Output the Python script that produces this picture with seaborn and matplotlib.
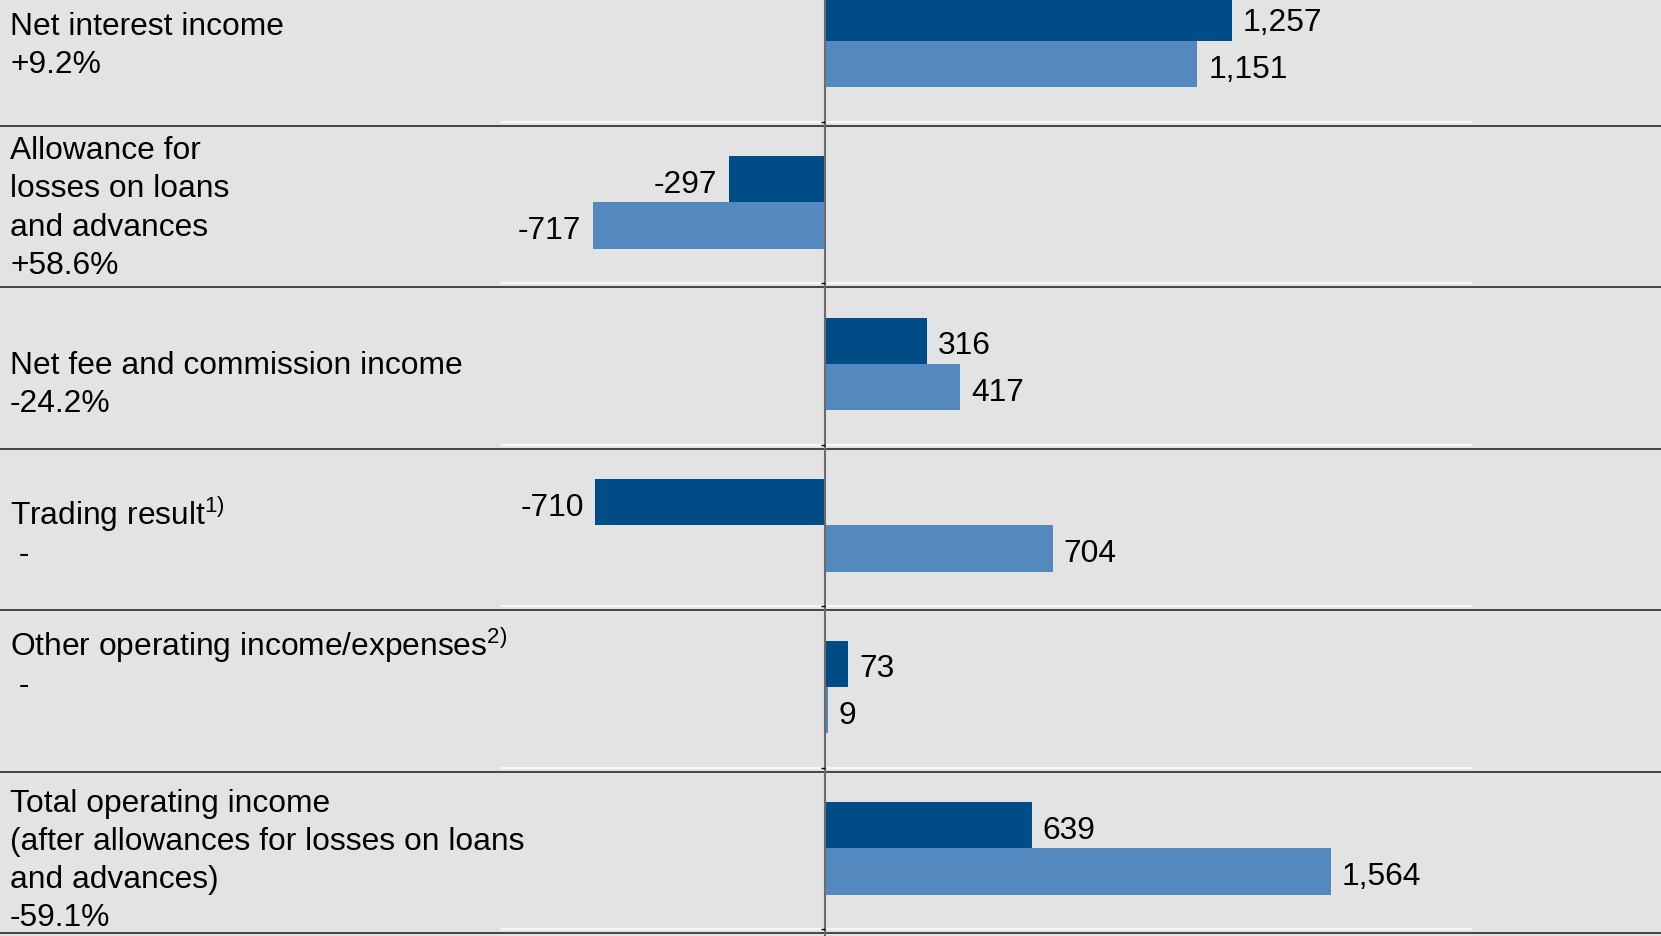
import numpy as np
import pandas as pd
import matplotlib
matplotlib.use("Agg")
import matplotlib.pyplot as plt
from matplotlib import transforms
import seaborn as sns

# ---------------- data ----------------
categories = [
    "Net interest income",
    "Allowance for\nlosses on loans\nand advances",
    "Net fee and commission income",
    "Trading result$^{\\mathregular{1)}}$",
    "Other operating income/expenses$^{\\mathregular{2)}}$",
    "Total operating income\n(after allowances for losses on loans\nand advances)",
]
changes = ["+9.2%", "+58.6%", "-24.2%", " -", " -", "-59.1%"]
current_period = [1257, -297, 316, -710, 73, 639]
prior_period = [1151, -717, 417, 704, 9, 1564]
periods = ["Current period", "Prior period"]

# ---------------- style ----------------
sns.set_theme(style="white")
plt.rcParams["font.family"] = ["Liberation Sans", "DejaVu Sans"]

BG = "#e3e3e3"
DARK = "#004c86"
LIGHT = "#5389be"
FS = 22.9

df = pd.DataFrame({
    "category": categories * 2,
    "period": [periods[0]] * len(categories) + [periods[1]] * len(categories),
    "value": current_period + prior_period,
})

fig = plt.figure(figsize=(16.61, 9.37), dpi=100, facecolor=BG)
ax = fig.add_axes([0, 0, 1, 1])
ax.set_facecolor(BG)

sns.barplot(data=df, y="category", x="value", hue="period", order=categories,
            hue_order=periods, palette=[DARK, LIGHT], orient="h", width=0.575,
            gap=0, saturation=1, errorbar=None, linewidth=0, legend=False,
            ax=ax, zorder=2)

XMIN, XMAX = -2547.7, 2583.6
ax.set_xlim(XMIN, XMAX)
ax.set_ylim(5.542, -0.2598)

n = len(categories)
bounds = np.arange(n) + 0.5
# plot-area grid (white) and table separators (dark)
ax.hlines(bounds, -1000, 2000, color="white", lw=1.1, zorder=1)
for b in bounds:
    ax.axhline(b + 0.025, color="#2a2a2a", lw=1.2, zorder=1)
ax.axvline(0, color="#6b6b6b", lw=1.5, zorder=3)
ax.hlines(bounds, -12, 0, color="black", lw=1.0, zorder=3)

for cont in ax.containers:
    anns = ax.bar_label(cont, fmt="{:,.0f}", padding=8, fontsize=FS, color="black")
    for a in anns:
        a.xyann = (a.xyann[0], -3.2)

trans = transforms.blended_transform_factory(ax.transAxes, ax.transData)
first_offsets = [-0.041, -0.273, 0.058, -0.010, -0.197, -0.233]
step = 0.2359
for i, (name, chg) in enumerate(zip(categories, changes)):
    lines = name.split("\n") + [chg]
    for j, line in enumerate(lines):
        ax.text(10 / 1661, i + first_offsets[i] + j * step, line, transform=trans,
                ha="left", va="baseline", fontsize=FS, color="black")

ax.set_xlabel("")
ax.set_ylabel("")
ax.set_xticks([])
ax.set_yticks([])
for s in ax.spines.values():
    s.set_visible(False)

fig.savefig("out.png", dpi=100, facecolor=BG)
